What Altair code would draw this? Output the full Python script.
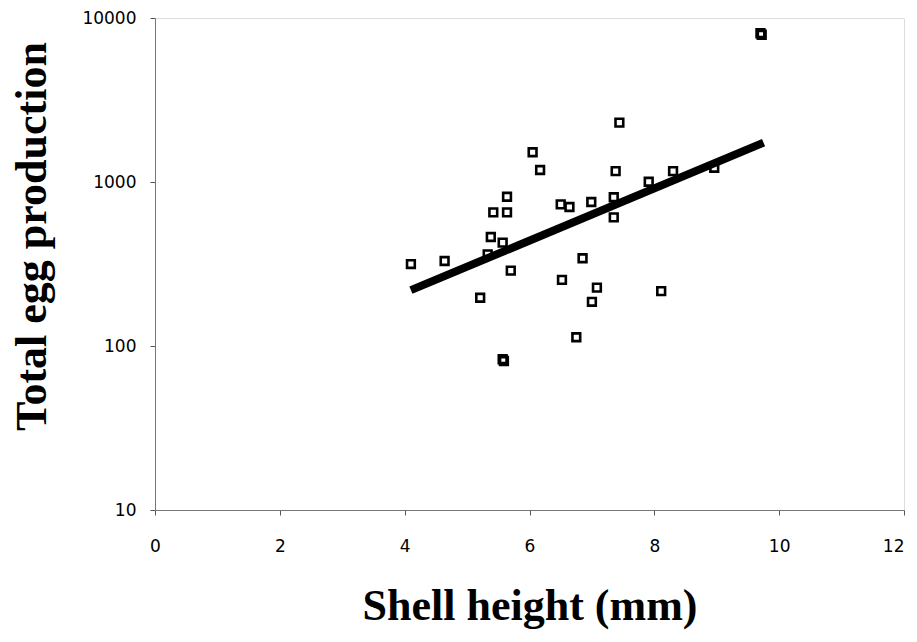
import altair as alt
import pandas as pd

# Observations: shell height (mm) and total egg production
shell_height = [7.44, 6.05, 6.17, 7.38, 8.30, 7.91, 5.64, 5.42, 5.64, 6.50,
                6.64, 6.99, 7.35, 7.35, 5.38, 5.57, 5.33, 4.10, 4.64, 6.85,
                5.70, 6.52, 7.08, 7.00, 5.21, 8.11, 6.75, 5.57, 5.59, 9.70,
                9.72, 8.96]
egg_total = [2300, 1518, 1183, 1166, 1166, 1004, 813, 653, 653, 731,
             704, 755, 807, 609, 462, 427, 362, 316, 330, 343,
             288, 253, 227, 186, 197, 216, 113, 83, 81, 8070,
             7900, 1222]

# Fitted regression line end points
fit_x = [4.1, 9.75]
fit_y = [219, 1737]

x_ticks = [0, 2, 4, 6, 8, 10, 12]
y_ticks = [10, 100, 1000, 10000]

pts = pd.DataFrame({"x": shell_height, "y": egg_total})
fit = pd.DataFrame({"x": fit_x, "y": fit_y})

xscale = alt.Scale(domain=[0, 12], nice=False, zero=False)
yscale = alt.Scale(type="log", domain=[10, 10000], nice=False)

xaxis = alt.Axis(
    values=x_ticks, grid=False, title="Shell height (mm)", format="d",
    titleFont="Liberation Serif", titleFontSize=44, titleFontWeight="bold",
    titleColor="black", titleBaseline="middle", titleY=96,
    labelFont="DejaVu Sans", labelFontSize=17, labelColor="black",
    labelPadding=23, tickSize=5, tickColor="#555", domainColor="#777",
    domainWidth=1, labelFlush=False,
    labelAlign=alt.expr("datum.value == 12 ? 'right' : 'center'"),
)
yaxis = alt.Axis(
    values=y_ticks, grid=False, title="Total egg production", format="d",
    titleFont="Liberation Serif", titleFontSize=44, titleFontWeight="bold",
    titleColor="black", titleBaseline="middle", titleAngle=-90,
    titleX=-123, titleY=218, titleAlign="center",
    labelFont="DejaVu Sans", labelFontSize=17, labelColor="black",
    labelPadding=14, tickSize=5, tickColor="#555", domainColor="#777",
    domainWidth=1, labelFlush=False,
)

points = alt.Chart(pts).mark_point(
    shape="square", filled=False, color="black", size=60, strokeWidth=2.6,
    opacity=1,
).encode(
    x=alt.X("x:Q", scale=xscale, axis=xaxis),
    y=alt.Y("y:Q", scale=yscale, axis=yaxis),
)

line = alt.Chart(fit).mark_line(color="black", strokeWidth=8).encode(
    x=alt.X("x:Q", scale=xscale),
    y=alt.Y("y:Q", scale=yscale),
)

chart = alt.layer(line, points).properties(
    width=749, height=492,
    autosize=alt.AutoSizeParams(type="none"),
    padding={"left": 147, "top": 10, "right": 4, "bottom": 122},
).configure_view(stroke=None).configure(background="white")

chart.save("out.html", embed_options={"renderer": "svg", "actions": False})
